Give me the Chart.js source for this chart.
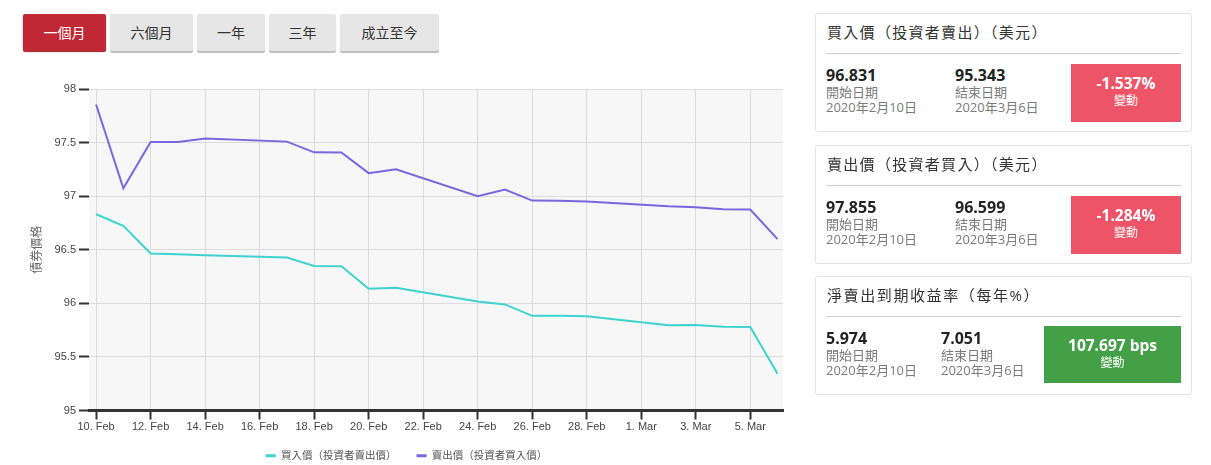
<!DOCTYPE html>
<html><head><meta charset="utf-8">
<script src="https://cdn.jsdelivr.net/npm/chart.js@4.4.1/dist/chart.umd.min.js"></script>
<style>
html,body{margin:0;padding:0;background:#fff;width:1211px;height:465px;overflow:hidden;font-family:"Open Sans","Noto Sans CJK TC",sans-serif;}
.btn{position:absolute;top:14px;height:37px;line-height:37px;text-align:center;font-size:14px;color:#333;background:#e6e6e6;border-radius:2px;box-shadow:0 2px 1px #bdbdbd;}
.btn.active{background:#bf2834;color:#fff;box-shadow:0 1px 1px #9a1f28;}
#wrap{position:absolute;left:0;top:70px;width:830px;height:401px;}
.card{position:absolute;left:815px;width:375px;height:117px;border:1px solid #e3e3e3;border-radius:3px;background:#fff;}
.ttl{position:absolute;left:11px;top:7px;font-size:15px;line-height:22px;color:#333;white-space:nowrap;letter-spacing:1.3px;}
.ttl.wide{letter-spacing:1.6px;}
.hr{position:absolute;left:10px;right:10px;top:39px;height:1px;background:#cfcfcf;}
.col{position:absolute;top:51px;white-space:nowrap;}
.v{font-size:16px;font-weight:bold;color:#222;line-height:20px;}
.l{font-size:13px;color:#7a7a7a;line-height:15px;}
.box{position:absolute;top:50px;height:58px;color:#fff;text-align:center;}
.box .bv{font-size:15.5px;font-weight:bold;line-height:20px;margin-top:9px;}
.box .bl{font-size:12px;line-height:16px;}
.red{background:#ee5467;}
.green{background:#43a047;}
</style>
</head><body>
<div class="btn active" style="left:23px;width:83px;">一個月</div>
<div class="btn" style="left:110px;width:83px;">六個月</div>
<div class="btn" style="left:197px;width:68px;">一年</div>
<div class="btn" style="left:269px;width:67px;">三年</div>
<div class="btn" style="left:340px;width:99px;">成立至今</div>

<div id="wrap"><canvas id="c"></canvas></div>

<div class="card" style="top:13px;">
  <div class="ttl">買入價（投資者賣出）（美元）</div>
  <div class="hr"></div>
  <div class="col" style="left:10px;"><div class="v">96.831</div><div class="l">開始日期</div><div class="l">2020年2月10日</div></div>
  <div class="col" style="left:139px;"><div class="v">95.343</div><div class="l">結束日期</div><div class="l">2020年3月6日</div></div>
  <div class="box red" style="left:255px;width:110px;"><div class="bv">-1.537%</div><div class="bl">變動</div></div>
</div>
<div class="card" style="top:145px;">
  <div class="ttl">賣出價（投資者買入）（美元）</div>
  <div class="hr"></div>
  <div class="col" style="left:10px;"><div class="v">97.855</div><div class="l">開始日期</div><div class="l">2020年2月10日</div></div>
  <div class="col" style="left:139px;"><div class="v">96.599</div><div class="l">結束日期</div><div class="l">2020年3月6日</div></div>
  <div class="box red" style="left:255px;width:110px;"><div class="bv">-1.284%</div><div class="bl">變動</div></div>
</div>
<div class="card" style="top:276px;">
  <div class="ttl wide">淨賣出到期收益率（每年%）</div>
  <div class="hr"></div>
  <div class="col" style="left:10px;"><div class="v">5.974</div><div class="l">開始日期</div><div class="l">2020年2月10日</div></div>
  <div class="col" style="left:125px;"><div class="v">7.051</div><div class="l">結束日期</div><div class="l">2020年3月6日</div></div>
  <div class="box green" style="left:228px;width:137px;top:49px;height:57px;"><div class="bv">107.697 bps</div><div class="bl">變動</div></div>
</div>

<script>
// ---- data ----
const dates = ["2020-02-10","2020-02-11","2020-02-12","2020-02-13","2020-02-14","2020-02-17","2020-02-18","2020-02-19","2020-02-20","2020-02-21","2020-02-24","2020-02-25","2020-02-26","2020-02-27","2020-02-28","2020-03-02","2020-03-03","2020-03-04","2020-03-05","2020-03-06"];
const bidPrices = [96.831,96.724,96.465,96.458,96.449,96.427,96.349,96.347,96.136,96.146,96.018,95.990,95.883,95.883,95.880,95.795,95.798,95.781,95.780,95.343];
const askPrices = [97.855,97.074,97.506,97.505,97.537,97.509,97.409,97.408,97.215,97.250,97.000,97.062,96.959,96.957,96.950,96.905,96.896,96.877,96.876,96.599];
const tickDates = ["2020-02-10","2020-02-12","2020-02-14","2020-02-16","2020-02-18","2020-02-20","2020-02-22","2020-02-24","2020-02-26","2020-02-28","2020-03-01","2020-03-03","2020-03-05"];
const tickLabels = ["10. Feb","12. Feb","14. Feb","16. Feb","18. Feb","20. Feb","22. Feb","24. Feb","26. Feb","28. Feb","1. Mar","3. Mar","5. Mar"];
const yTicks = [95,95.5,96,96.5,97,97.5,98];
const yTickLabels = ["95","95.5","96","96.5","97","97.5","98"];
const seriesNames = ["買入價（投資者賣出價）","賣出價（投資者買入價）"];
const yTitle = "債券價格";

const DAY = 86400000;
const t0 = Date.parse(dates[0] + "T00:00:00Z");
const toDay = s => (Date.parse(s + "T00:00:00Z") - t0) / DAY;
const tickPos = tickDates.map(toDay);

const FONT = '"Liberation Sans","Noto Sans CJK TC",sans-serif';
const teal = '#3fd3cf', purple = '#7b66e0';

const bgPlugin = {
  id: 'bg',
  beforeDraw(chart) {
    const a = chart.chartArea, ctx = chart.ctx;
    ctx.save(); ctx.fillStyle = '#f7f7f7';
    ctx.fillRect(a.left, a.top, a.right - a.left, a.bottom - a.top);
    ctx.restore();
  }
};

new Chart(document.getElementById('c'), {
  type: 'line',
  data: {
    datasets: [
      { label: seriesNames[0], data: dates.map((d,i)=>({x: toDay(d), y: bidPrices[i]})), borderColor: teal, backgroundColor: teal, borderWidth: 2, pointRadius: 0, tension: 0, fill: false },
      { label: seriesNames[1], data: dates.map((d,i)=>({x: toDay(d), y: askPrices[i]})), borderColor: purple, backgroundColor: purple, borderWidth: 2, pointRadius: 0, tension: 0, fill: false }
    ]
  },
  options: {
    responsive: true, maintainAspectRatio: false, animation: false,
    layout: { padding: { top: 19, right: 47, left: 30, bottom: 0 } },
    plugins: {
      tooltip: { enabled: false },
      legend: {
        position: 'bottom',
        labels: {
          boxWidth: 10, boxHeight: 3, padding: 20, color: '#555',
          font: { family: FONT, size: 10.5 },
          generateLabels: chart => chart.data.datasets.map((d, i) => ({
            text: d.label, fillStyle: d.borderColor, strokeStyle: d.borderColor, lineWidth: 0,
            hidden: false, datasetIndex: i, fontColor: '#555'
          }))
        }
      }
    },
    scales: {
      x: {
        type: 'linear', min: -0.26, max: 25.2,
        afterBuildTicks: s => { s.ticks = tickPos.map(v => ({ value: v })); },
        afterFit: s => { s.height = 20; },
        ticks: {
          autoSkip: false, maxRotation: 0, padding: 1, color: '#444',
          font: { family: FONT, size: 11 },
          callback: v => { const i = tickPos.indexOf(v); return i >= 0 ? tickLabels[i] : ''; }
        },
        grid: { color: '#dcdcdc', lineWidth: 1, tickColor: '#333', tickLength: 9, tickWidth: 2 },
        border: { display: true, color: '#333', width: 3 }
      },
      y: {
        min: 95, max: 98,
        afterBuildTicks: s => { s.ticks = yTicks.map(v => ({ value: v })); },
        afterFit: s => { s.width = 59; },
        ticks: {
          padding: 3, color: '#444', font: { family: FONT, size: 11 },
          callback: v => { const i = yTicks.indexOf(v); return i >= 0 ? yTickLabels[i] : ''; }
        },
        grid: { color: '#dcdcdc', lineWidth: 1, tickColor: '#333', tickLength: 10, tickWidth: 2 },
        border: { display: false },
        title: { display: true, text: yTitle, color: '#666', font: { family: FONT, size: 12 }, padding: { top: 0, bottom: 0 } }
      }
    }
  },
  plugins: [bgPlugin]
});
</script>
</body></html>
